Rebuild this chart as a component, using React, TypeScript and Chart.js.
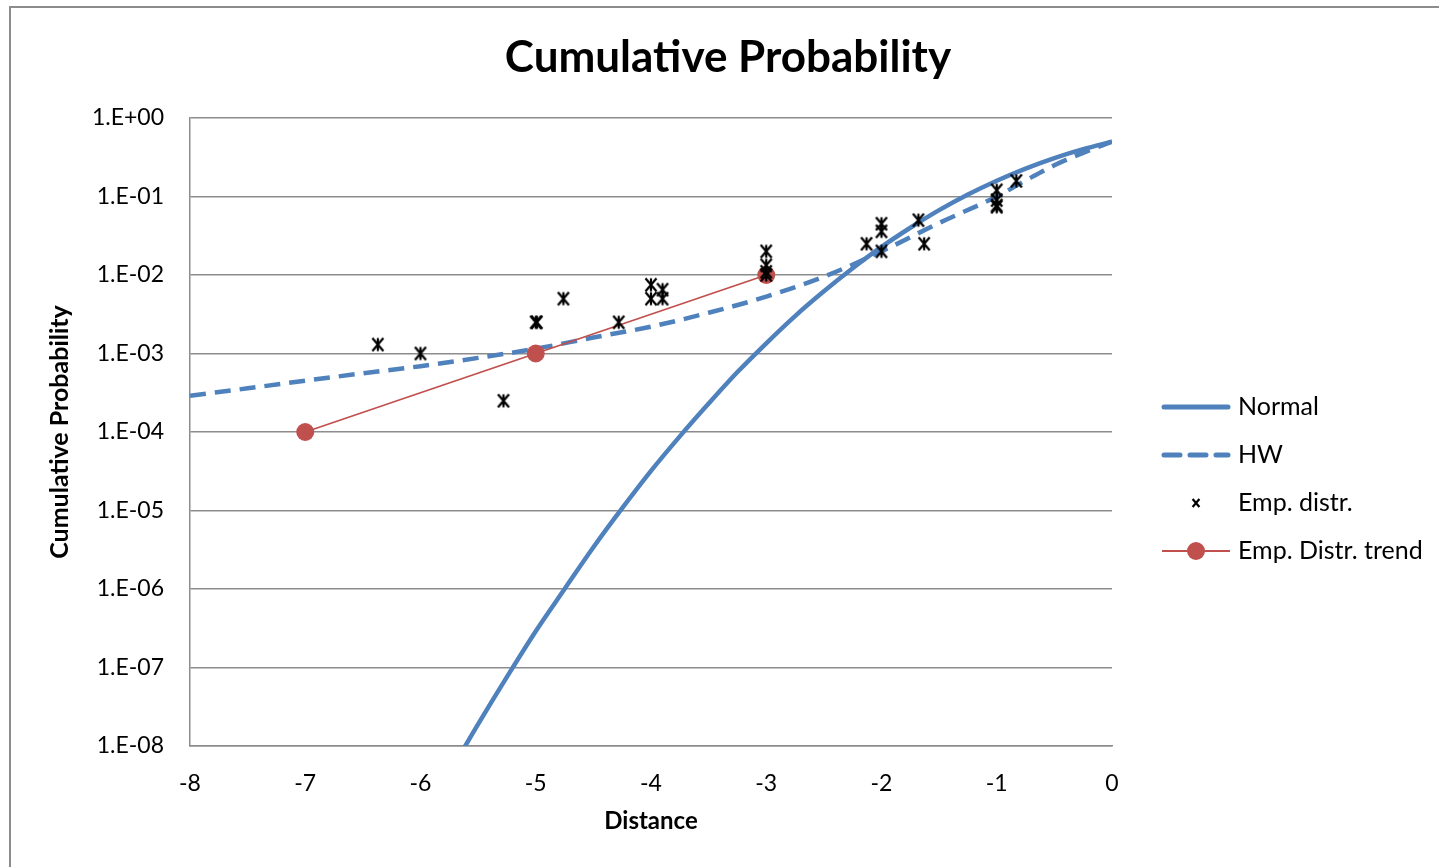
import React, { useEffect, useRef } from 'react';
import { Chart, registerables } from 'chart.js';

Chart.register(...registerables);

const chartTitle = 'Cumulative Probability';
const xAxisTitle = 'Distance';
const yAxisTitle = 'Cumulative Probability';
const seriesNames = ['Normal', 'HW', 'Emp. distr.', 'Emp. Distr. trend'];

const yTickValues = [1, 1e-1, 1e-2, 1e-3, 1e-4, 1e-5, 1e-6, 1e-7, 1e-8];
const yTickLabels = ['1.E+00', '1.E-01', '1.E-02', '1.E-03', '1.E-04', '1.E-05', '1.E-06', '1.E-07', '1.E-08'];

const normalX = [-5.75, -5.5, -5.25, -5, -4.75, -4.5, -4.25, -4, -3.75, -3.5, -3.25, -3, -2.75, -2.5, -2.25, -2, -1.75, -1.5, -1.25, -1, -0.75, -0.5, -0.25, 0];
const normalY = [4.5e-9, 1.9e-8, 7.6e-8, 2.9e-7, 1.0e-6, 3.4e-6, 1.07e-5, 3.2e-5, 8.8e-5, 2.3e-4, 5.8e-4, 1.35e-3, 3.0e-3, 6.2e-3, 1.22e-2, 2.28e-2, 4.0e-2, 6.7e-2, 0.106, 0.159, 0.227, 0.309, 0.401, 0.5];

const hwX = [-8, -7.5, -7, -6.5, -6, -5.5, -5, -4.5, -4, -3.5, -3, -2.5, -2, -1.5, -1, -0.75, -0.5, -0.25, 0];
const hwY = [2.9e-4, 3.6e-4, 4.5e-4, 5.6e-4, 6.9e-4, 8.8e-4, 1.15e-3, 1.6e-3, 2.2e-3, 3.3e-3, 5.3e-3, 9.5e-3, 2.0e-2, 4.6e-2, 0.1, 0.16, 0.25, 0.36, 0.5];

const empX = [-6.37, -6.0, -5.28, -5.0, -4.99, -4.76, -4.28, -4.0, -4.0, -3.9, -3.9, -3.0, -3.0, -3.0, -3.0, -2.13, -2.0, -2.0, -2.0, -1.68, -1.63, -1.0, -1.0, -1.0, -1.0, -0.83];
const empY = [1.3e-3, 1.0e-3, 2.5e-4, 2.5e-3, 2.5e-3, 5.0e-3, 2.5e-3, 7.5e-3, 5.0e-3, 6.5e-3, 5.0e-3, 2.0e-2, 1.33e-2, 1.1e-2, 1.0e-2, 2.5e-2, 4.5e-2, 3.6e-2, 2.0e-2, 5.0e-2, 2.5e-2, 0.12, 0.09, 0.077, 0.074, 0.158];

const trendX = [-7, -5, -3];
const trendY = [1e-4, 1e-3, 1e-2];

const BLUE = '#4F81BD';
const RED = '#C0504D';
const FONT = 'Lato';

function pts(xs: number[], ys: number[]) {
  return xs.map((x, i) => ({ x, y: ys[i] }));
}

function drawStar(ctx: CanvasRenderingContext2D, cx: number, cy: number, r: number, vertical: boolean, lw: number) {
  ctx.save();
  ctx.strokeStyle = '#000';
  ctx.lineWidth = lw;
  ctx.beginPath();
  ctx.moveTo(cx - r * 0.85, cy - r);
  ctx.lineTo(cx + r * 0.85, cy + r);
  ctx.moveTo(cx + r * 0.85, cy - r);
  ctx.lineTo(cx - r * 0.85, cy + r);
  if (vertical) {
    ctx.moveTo(cx, cy - r);
    ctx.lineTo(cx, cy + r);
  }
  ctx.stroke();
  ctx.restore();
}

function makeMarker(): HTMLCanvasElement {
  const c = document.createElement('canvas');
  c.width = 18;
  c.height = 18;
  const ctx = c.getContext('2d')!;
  drawStar(ctx, 9, 9, 6.5, true, 2.2);
  return c;
}

const framePlugin = {
  id: 'frame',
  beforeDraw(chart: any) {
    const ctx = chart.ctx;
    ctx.save();
    ctx.fillStyle = '#fff';
    ctx.fillRect(0, 0, chart.width, chart.height);
    ctx.strokeStyle = '#8c8c8c';
    ctx.lineWidth = 2;
    ctx.strokeRect(10, 7, 1500, 1000);
    ctx.restore();
  },
  afterDraw(chart: any) {
    const ctx = chart.ctx;
    ctx.save();
    ctx.fillStyle = '#000';
    ctx.textBaseline = 'middle';
    ctx.textAlign = 'center';
    ctx.font = `bold 44px ${FONT}`;
    ctx.fillText(chartTitle, 728, 58);

    // legend
    const lx0 = 1162, lx1 = 1230, tx = 1238;
    const ys = [407, 455, 503, 551];
    ctx.font = `25px ${FONT}`;
    ctx.textAlign = 'left';
    // Normal
    ctx.lineCap = 'round';
    ctx.strokeStyle = BLUE;
    ctx.lineWidth = 5;
    ctx.beginPath();
    ctx.moveTo(lx0 + 2, ys[0]);
    ctx.lineTo(lx1 - 2, ys[0]);
    ctx.stroke();
    // HW
    ctx.setLineDash([16, 10]);
    ctx.beginPath();
    ctx.moveTo(lx0 + 2, ys[1]);
    ctx.lineTo(lx1 - 2, ys[1]);
    ctx.stroke();
    ctx.setLineDash([]);
    ctx.lineCap = 'butt';
    // Emp distr
    drawStar(ctx, 1196, ys[2], 4, false, 2.2);
    // trend
    ctx.strokeStyle = RED;
    ctx.lineWidth = 2;
    ctx.beginPath();
    ctx.moveTo(lx0, ys[3]);
    ctx.lineTo(lx1, ys[3]);
    ctx.stroke();
    ctx.fillStyle = RED;
    ctx.beginPath();
    ctx.arc(1196, ys[3], 9, 0, Math.PI * 2);
    ctx.fill();

    ctx.fillStyle = '#000';
    seriesNames.forEach((n, i) => ctx.fillText(n, tx, ys[i]));
    ctx.restore();
  },
};

export default function App() {
  const ref = useRef<HTMLCanvasElement | null>(null);

  useEffect(() => {
    if (!ref.current) return;
    const marker = makeMarker();
    const chart = new Chart(ref.current, {
      type: 'line',
      data: {
        datasets: [
          {
            label: seriesNames[0],
            data: pts(normalX, normalY),
            borderColor: BLUE,
            borderWidth: 4.5,
            pointRadius: 0,
            cubicInterpolationMode: 'monotone',
            fill: false,
            order: 3,
          },
          {
            label: seriesNames[1],
            data: pts(hwX, hwY),
            borderColor: BLUE,
            borderWidth: 4.5,
            borderDash: [16, 9],
            pointRadius: 0,
            cubicInterpolationMode: 'monotone',
            fill: false,
            order: 2,
          },
          {
            label: seriesNames[2],
            data: pts(empX, empY),
            showLine: false,
            pointStyle: marker as any,
            pointRadius: 7,
            order: 0,
          },
          {
            label: seriesNames[3],
            data: pts(trendX, trendY),
            borderColor: RED,
            borderWidth: 1.8,
            pointRadius: 9,
            pointBackgroundColor: RED,
            pointBorderWidth: 0,
            fill: false,
            order: 1,
          },
        ] as any,
      },
      options: {
        responsive: false,
        animation: false,
        devicePixelRatio: 1,
        layout: { padding: { top: 118, right: 327, bottom: 0, left: 0 } },
        plugins: {
          legend: { display: false },
          title: { display: false },
          tooltip: { enabled: false },
        },
        scales: {
          x: {
            type: 'linear',
            min: -8,
            max: 0,
            afterFit: (s: any) => { s.height = 121; },
            ticks: {
              stepSize: 1,
              padding: 24,
              color: '#000',
              font: { family: FONT, size: 23 },
              callback: (v: any) => String(v),
            },
            grid: { display: false, drawTicks: false },
            border: { display: true, color: '#8c8c8c', width: 1.5 },
            title: {
              display: true,
              text: xAxisTitle,
              color: '#000',
              font: { family: FONT, size: 24, weight: 'bold' },
              padding: { top: 0, bottom: 31 },
            },
          },
          y: {
            type: 'logarithmic',
            min: 1e-8,
            max: 1,
            afterFit: (s: any) => { s.width = 190; },
            afterBuildTicks: (s: any) => { s.ticks = yTickValues.map((v) => ({ value: v })); },
            ticks: {
              padding: 26,
              color: '#000',
              font: { family: FONT, size: 23 },
              autoSkip: false,
              callback: (v: any) => {
                const i = yTickValues.findIndex((t) => Math.abs(Math.log10(t) - Math.log10(v)) < 1e-6);
                return i >= 0 ? yTickLabels[i] : '';
              },
            },
            grid: { display: true, color: '#8c8c8c', lineWidth: 1.5, drawTicks: false },
            border: { display: true, color: '#8c8c8c', width: 1.5 },
            title: {
              display: true,
              text: yAxisTitle,
              color: '#000',
              font: { family: FONT, size: 25, weight: 'bold' },
              padding: { top: 45, bottom: 0 },
            },
          },
        },
      } as any,
      plugins: [framePlugin],
    });
    return () => chart.destroy();
  }, []);

  return (
    <div style={{ position: 'fixed', left: 0, top: 0, width: 1439, height: 867, background: '#fff' }}>
      <canvas ref={ref} width={1439} height={867} style={{ display: 'block' }} />
    </div>
  );
}
